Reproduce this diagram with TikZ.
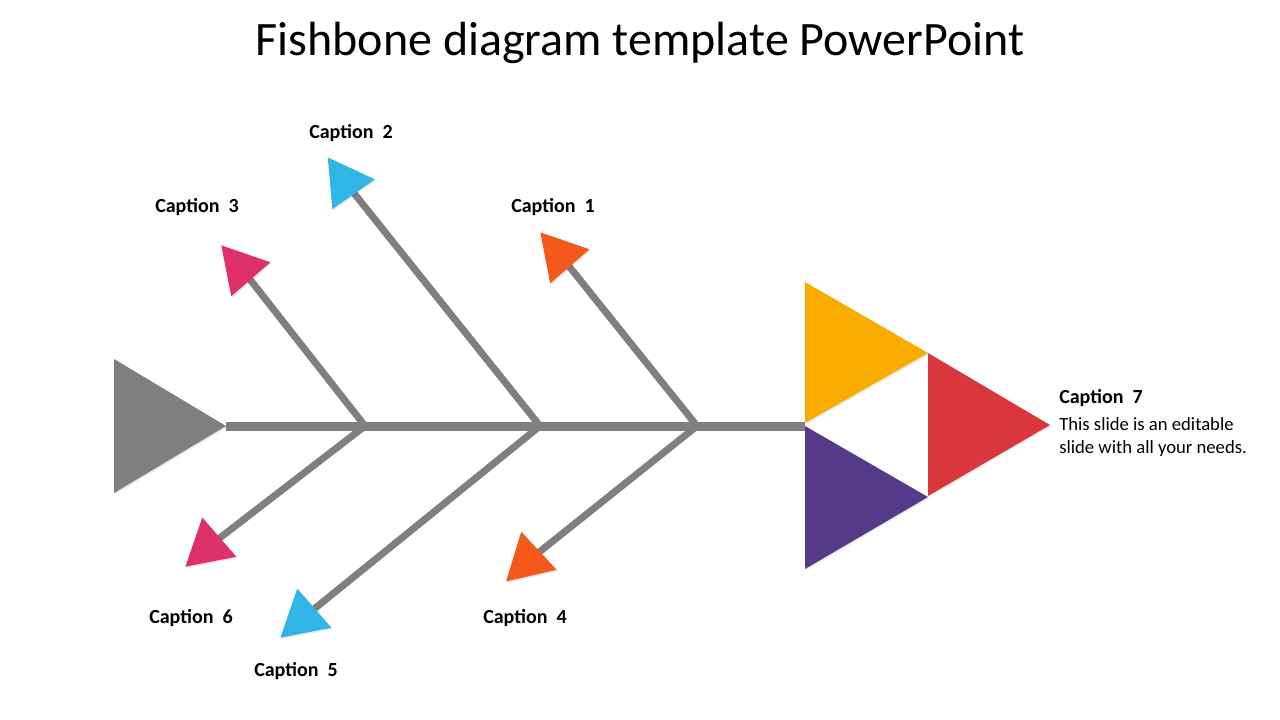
\documentclass[tikz,border=0pt]{standalone}
\usepackage{fontspec}
\setmainfont{Carlito}
\usepackage{xcolor}
\usepackage{tikz}
\usetikzlibrary{shapes.geometric, calc, positioning, shadows, backgrounds}

\definecolor{bonegray}{HTML}{7F7F7F}
\definecolor{capyellow}{HTML}{FAAB00}
\definecolor{capred}{HTML}{D9363E}
\definecolor{cappurple}{HTML}{553A8A}
\definecolor{cappink}{HTML}{E0306A}
\definecolor{capblue}{HTML}{31B4E6}
\definecolor{caporange}{HTML}{F4581A}

\begin{document}
\begin{tikzpicture}[
    x=0.75pt, y=-0.75pt,
    spine/.style={draw=bonegray, line width=6.75pt},
    bone/.style={draw=bonegray, line width=5.25pt},
    tip/.style={regular polygon, regular polygon sides=3, minimum size=45pt, inner sep=0pt, draw=none,
        drop shadow={shadow xshift=1pt, shadow yshift=-1pt, opacity=0.08, fill=black}},
    head/.style={drop shadow={shadow xshift=1pt, shadow yshift=-1pt, opacity=0.08, fill=black}},
    caption/.style={font=\fontsize{15}{18}\selectfont\bfseries, inner sep=0pt},
    body/.style={font=\fontsize{14}{17}\selectfont, inner sep=0pt, align=left}
]
\useasboundingbox (0,0) rectangle (1280,720);

% Title
\node[font=\fontsize{36}{42}\selectfont] (title) at (640,43) {Fishbone diagram template PowerPoint};

% Spine points
\coordinate (tail) at (226,426);
\coordinate (head) at (805,426);
\coordinate (j1) at (365,426);
\coordinate (j2) at (540,426);
\coordinate (j3) at (697,426);

% Arrow tips
\node[tip, fill=caporange, rotate=161] (t1) at (560,255) {};
\node[tip, fill=capblue, rotate=155] (t2) at (345,182) {};
\node[tip, fill=cappink, rotate=161] (t3) at (241,268) {};
\node[tip, fill=caporange, rotate=13] (t4) at (528,561) {};
\node[tip, fill=capblue, rotate=11] (t5) at (303,618) {};
\node[tip, fill=cappink, rotate=11] (t6) at (208,547) {};

% Bones
\begin{scope}[on background layer]
\draw[spine] (tail) -- (head);
\draw[bone] (j3) -- (t1.center);
\draw[bone] (j2) -- (t2.center);
\draw[bone] (j1) -- (t3.center);
\draw[bone] (j3) -- (t4.center);
\draw[bone] (j2) -- (t5.center);
\draw[bone] (j1) -- (t6.center);
\end{scope}

% Tail and head
\fill[bonegray, head] (114,359) -- (tail) -- (114,493) -- cycle;
\fill[capyellow, head] (805,282) -- (928,353) -- (805,423) -- cycle;
\fill[capred, head] (928,353) -- (1050,425) -- (928,496) -- cycle;
\fill[cappurple, head] (head) -- (928,497) -- (805,569) -- cycle;

% Captions
\node[caption] (c1) at (553,207) {Caption\ \ 1};
\node[caption] (c2) at (351,133) {Caption\ \ 2};
\node[caption] (c3) at (197,207) {Caption\ \ 3};
\node[caption] (c4) at (525,618) {Caption\ \ 4};
\node[caption] (c5) at (296,671) {Caption\ \ 5};
\node[caption] (c6) at (191,618) {Caption\ \ 6};
\node[caption, anchor=west] (c7) at (1059,398) {Caption\ \ 7};
\node[body, below=8pt of c7.south west, anchor=north west] (desc) {This slide is an editable\\slide with all your needs.};

\end{tikzpicture}
\end{document}
